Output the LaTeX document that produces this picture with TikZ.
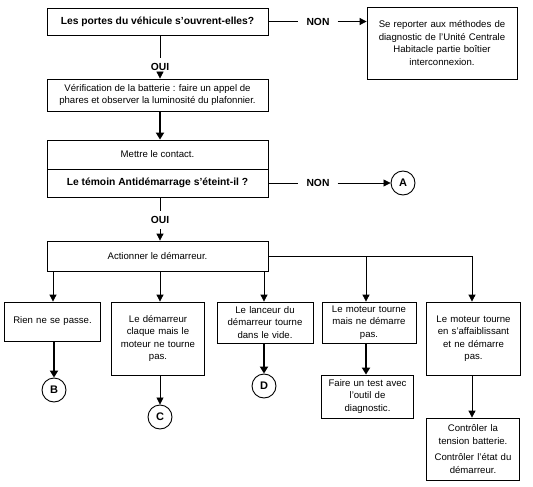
\documentclass[tikz,border=0pt]{standalone}
\usepackage{fontspec}
\setmainfont{Liberation Sans}
\usetikzlibrary{arrows.meta}
\begin{document}
\begin{tikzpicture}[x=1pt,y=-1pt,
  font=\fontsize{9.6}{12.4}\selectfont,
  box/.style={draw,line width=0.8pt,align=center,inner sep=2pt,anchor=center},
  bfont/.style={font=\fontsize{10.3}{12.4}\selectfont\bfseries},
  lbl/.style={bfont,inner xsep=8pt,inner ysep=3pt},
  circ/.style={draw,circle,line width=0.9pt,minimum size=24pt,inner sep=0pt,font=\fontsize{11}{12}\selectfont\bfseries},
  thin/.style={line width=0.8pt,-{Triangle[length=7pt,width=7pt]}},
  thick/.style={line width=1.8pt,-{Triangle[length=7pt,width=8pt]}},
  plain/.style={line width=0.8pt}]
\useasboundingbox (0,0) rectangle (533,487);
% top
\node[box,bfont,minimum width=221pt,minimum height=27pt] (q1) at (157.5,21.5) {Les portes du véhicule s'ouvrent-elles?};
\node[box,minimum width=150pt,minimum height=72pt,text width=146pt] (ref) at (442,43) {Se reporter aux méthodes de\\diagnostic de l'Unité Centrale\\Habitacle partie boîtier\\interconnexion.};
\node[lbl] (non1) at (318,21.5) {NON};
\draw[plain] (q1.east) -- (non1.west);
\draw[thin] (non1.east) -- (non1.east -| ref.west);
\node[lbl,inner ysep=5pt] (oui1) at (160,67) {OUI};
\node[box,minimum width=221pt,minimum height=32pt] (batt) at (157.5,95) {Vérification de la batterie : faire un appel de\\phares et observer la luminosité du plafonnier.};
\draw[plain] (q1.south -| oui1) -- (oui1.north);
\draw[thin] (oui1.south) -- (oui1.south |- batt.north);
% contact
\node[box,minimum width=221pt,minimum height=29pt] (c1) at (157.5,154.5) {Mettre le contact.};
\node[box,bfont,minimum width=221pt,minimum height=28pt] (c2) at (157.5,183) {Le témoin Antidémarrage s'éteint-il ?};
\draw[thick] (batt.south -| oui1) -- (c1.north -| oui1);
\node[lbl] (non2) at (318,183) {NON};
\node[circ] (A) at (403,183) {A};
\draw[plain] (c2.east) -- (non2.west);
\draw[thin] (non2.east) -- (non2.east -| A.west);
\node[lbl,inner ysep=5pt] (oui2) at (160,220) {OUI};
\node[box,minimum width=221pt,minimum height=30pt] (act) at (157.5,256) {Actionner le démarreur.};
\draw[plain] (c2.south -| oui2) -- (oui2.north);
\draw[thin] (oui2.south) -- (oui2.south |- act.north);
% bottom row
\node[box,minimum width=95pt,minimum height=39pt,text width=92pt] (b1) at (52.5,321.5) {Rien ne se passe.};
\node[box,minimum width=92pt,minimum height=73pt,text width=89pt] (b2) at (158,338.5) {Le démarreur\\claque mais le\\moteur ne tourne\\pas.};
\node[box,minimum width=96pt,minimum height=41pt,text width=92pt] (b3) at (265,322.5) {Le lanceur du\\démarreur tourne\\dans le vide.};
\node[box,minimum width=94pt,minimum height=41pt,text width=90pt] (b4) at (369,322.5) {Le moteur tourne\\mais ne démarre\\pas.};
\node[box,minimum width=93pt,minimum height=73pt,text width=90pt] (b5) at (473.5,338.5) {Le moteur tourne\\en s'affaiblissant\\et ne démarre\\pas.};
\coordinate (x1) at (53,271);
\coordinate (x2) at (160,271);
\coordinate (x3) at (264,271);
\coordinate (bus) at (472,256);
\coordinate (t4) at (366,256);
\draw[thin] (x1) -- (x1 |- b1.north);
\draw[thin] (x2) -- (x2 |- b2.north);
\draw[thin] (x3) -- (x3 |- b3.north);
\draw[plain] (act.east) -- (bus);
\draw[thin] (t4) -- (t4 |- b4.north);
\draw[thin] (bus) -- (bus |- b5.north);
% results
\node[circ] (B) at (54,390) {B};
\node[circ] (C) at (160,417) {C};
\node[circ] (D) at (264,386) {D};
\node[box,minimum width=91pt,minimum height=43pt,text width=88pt] (test) at (367.5,396.5) {Faire un test avec\\l'outil de\\diagnostic.};
\node[box,minimum width=92pt,minimum height=62pt,text width=89pt] (ctrl) at (473,449) {Contrôler la\\tension batterie.\\[4pt]Contrôler l'état du\\démarreur.};
\draw[thick] (b1.south -| B) -- (B.north);
\draw[thin] (b2.south -| C) -- (C.north);
\draw[thick] (b3.south -| D) -- (D.north);
\draw[thick] (b4.south -| t4) -- (t4 |- test.north);
\draw[thin] (b5.south -| bus) -- (bus |- ctrl.north);
\end{tikzpicture}
\end{document}
